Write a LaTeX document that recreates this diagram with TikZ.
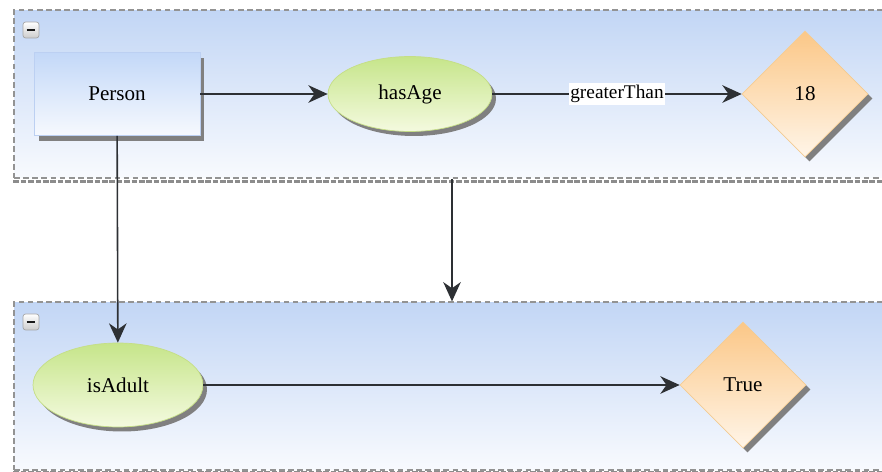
\documentclass[tikz,border=0pt]{standalone}
\usepackage{fontspec}
\setmainfont{Liberation Serif}
\usetikzlibrary{shapes.geometric,arrows.meta,shadows}

\definecolor{grptop}{HTML}{C2D6F5}
\definecolor{grpbot}{HTML}{F8FAFE}
\definecolor{clstop}{HTML}{C3D8F8}
\definecolor{clsbot}{HTML}{F6F9FE}
\definecolor{clsline}{HTML}{BCD0F2}
\definecolor{proptop}{HTML}{C6E58A}
\definecolor{propbot}{HTML}{F4FADF}
\definecolor{propline}{HTML}{C5DE86}
\definecolor{valtop}{HTML}{FBC787}
\definecolor{valbot}{HTML}{FFF5E8}
\definecolor{valline}{HTML}{F5CD94}
\definecolor{edgecol}{HTML}{2D3034}

\tikzset{
  grp/.style={rectangle, draw=gray!85, dash pattern=on 3.2pt off 2pt, line width=0.7pt,
    top color=grptop, bottom color=grpbot,
    minimum width=17.52cm, minimum height=3.36cm},
  grpshade/.style={draw=gray!90, dash pattern=on 3.2pt off 1pt, line width=2pt},
  fold/.style={rectangle, rounded corners=1.5pt, draw=gray!70,
    top color=white, bottom color=gray!40, minimum size=0.32cm, inner sep=0pt},
  cls/.style={rectangle, draw=clsline, top color=clstop, bottom color=clsbot,
    minimum width=3.32cm, minimum height=1.66cm,
    drop shadow={shadow xshift=0.09cm, shadow yshift=-0.11cm, fill=gray, opacity=1}},
  prop/.style={ellipse, draw=propline, top color=proptop, bottom color=propbot,
    inner sep=0pt,
    drop shadow={shadow xshift=0.08cm, shadow yshift=-0.09cm, fill=gray, opacity=1}},
  val/.style={diamond, draw=valline, top color=valtop, bottom color=valbot,
    minimum size=2.52cm, inner sep=0pt,
    drop shadow={shadow xshift=0.09cm, shadow yshift=-0.09cm, fill=gray, opacity=1}},
  rel/.style={draw=edgecol, line width=0.9pt,
    -{Stealth[length=11pt,width=10pt,inset=3.5pt]}},
  rellabel/.style={fill=white, inner sep=1pt, font=\fontsize{11}{13}\selectfont},
}

\begin{document}
\begin{tikzpicture}[x=0.02cm, y=-0.02cm, font=\fontsize{12}{14}\selectfont]
\useasboundingbox (0,0) rectangle (882,472);
\clip (0,0) rectangle (882,472);

% the two groups
\node[grp] (topgrp) at (452,94) {};
\node[grp] (botgrp) at (452,386) {};
\draw[grpshade] ([yshift=-0.06cm]topgrp.south west) -- ([yshift=-0.06cm]topgrp.south east);
\draw[grpshade, line width=1.2pt] ([yshift=-0.03cm]botgrp.south west) -- ([yshift=-0.03cm]botgrp.south east);
\node[fold] (topfold) at (31,30) {};
\node[fold] (botfold) at (31,322) {};
\draw[line width=1.6pt, gray!20!black] ([xshift=-0.09cm]topfold.center) -- ([xshift=0.09cm]topfold.center);
\draw[line width=1.6pt, gray!20!black] ([xshift=-0.09cm]botfold.center) -- ([xshift=0.09cm]botfold.center);

% nodes
\node[cls] (person) at (117,94) {Person};
\node[prop, minimum width=3.28cm, minimum height=1.5cm] (hasage) at (410,94) {hasAge};
\node[val] (eighteen) at (805,94) {18};
\node[prop, minimum width=3.4cm, minimum height=1.68cm] (isadult) at (118,385) {isAdult};
\node[val] (true) at (743,385) {True};

% edges
\draw[rel] (person) -- (hasage);
\draw[rel] (hasage) -- node[rellabel] {greaterThan} (eighteen);
\draw[rel] (person) -- (isadult);
\draw[rel] (isadult) -- (true);
\draw[rel] (topgrp.south) -- (botgrp.north);
\end{tikzpicture}
\end{document}
